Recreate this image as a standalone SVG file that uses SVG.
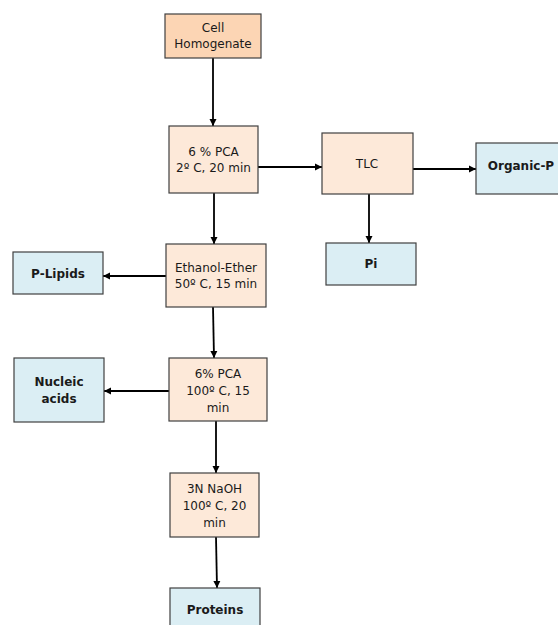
<svg xmlns="http://www.w3.org/2000/svg" width="558" height="625" viewBox="0 0 558 625">
<style>
.box{stroke:#404040;stroke-width:1.2}
.p1{fill:#fcd5b4}
.p2{fill:#fde9d9}
.b{fill:#dbeef4}
text{font-family:"DejaVu Sans","Verdana",sans-serif;font-size:12px;fill:#1a1a1a;text-anchor:middle}
.bold{font-weight:bold;font-size:12px}
.c line{stroke:#000;stroke-width:1.8;marker-end:url(#ah)}
</style>
<defs>
<marker id="ah" markerWidth="8" markerHeight="8" refX="7" refY="4" orient="auto" markerUnits="userSpaceOnUse">
<path d="M0,0.5 L7,4 L0,7.5 Z" fill="#000"/>
</marker>
</defs>
<rect width="558" height="625" fill="#fff"/>
<g class="c" id="connectors">
<line x1="213" y1="58" x2="213" y2="126"/>
<line x1="258" y1="167" x2="322" y2="167"/>
<line x1="413" y1="169" x2="476" y2="169"/>
<line x1="369" y1="194" x2="369" y2="243"/>
<line x1="214" y1="193" x2="214" y2="244"/>
<line x1="166" y1="276" x2="103" y2="276"/>
<line x1="213" y1="307" x2="214" y2="358"/>
<line x1="169" y1="391" x2="104" y2="391"/>
<line x1="216" y1="421" x2="216" y2="473"/>
<line x1="216" y1="537" x2="217" y2="588"/>
</g>
<g id="cell">
<rect class="box p1" x="165" y="14" width="96" height="44"/>
<text x="213" y="32">Cell</text>
<text x="213" y="48">Homogenate</text>
</g>
<g id="pca1">
<rect class="box p2" x="169" y="126" width="89" height="67"/>
<text x="213.5" y="156">6 % PCA</text>
<text x="213.5" y="172">2º C, 20 min</text>
</g>
<g id="tlc">
<rect class="box p2" x="322" y="133" width="91" height="61"/>
<text x="367" y="168">TLC</text>
</g>
<g id="organicp">
<rect class="box b" x="476" y="143" width="90" height="51"/>
<text class="bold" x="521" y="170">Organic-P</text>
</g>
<g id="pi">
<rect class="box b" x="326" y="243" width="90" height="42"/>
<text class="bold" x="371" y="268">Pi</text>
</g>
<g id="ethanol">
<rect class="box p2" x="166" y="244" width="100" height="63"/>
<text x="216" y="272">Ethanol-Ether</text>
<text x="216" y="288">50º C, 15 min</text>
</g>
<g id="plipids">
<rect class="box b" x="13" y="252" width="90" height="42"/>
<text class="bold" x="58" y="278">P-Lipids</text>
</g>
<g id="pca2">
<rect class="box p2" x="169" y="358" width="98" height="63"/>
<text x="218" y="378">6% PCA</text>
<text x="218" y="395">100º C, 15</text>
<text x="218" y="412">min</text>
</g>
<g id="nucleic">
<rect class="box b" x="14" y="358" width="90" height="64"/>
<text class="bold" x="59" y="386">Nucleic</text>
<text class="bold" x="59" y="403">acids</text>
</g>
<g id="naoh">
<rect class="box p2" x="170" y="473" width="89" height="64"/>
<text x="214.5" y="493">3N NaOH</text>
<text x="214.5" y="510">100º C, 20</text>
<text x="214.5" y="527">min</text>
</g>
<g id="proteins">
<rect class="box b" x="170" y="588" width="90" height="45"/>
<text class="bold" x="215" y="614">Proteins</text>
</g>
</svg>
